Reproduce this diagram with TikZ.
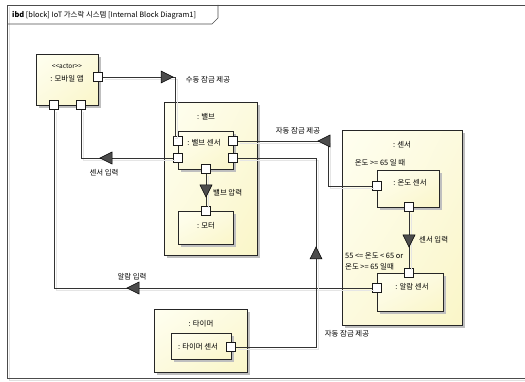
\documentclass[tikz,border=0pt]{standalone}
\usepackage{fontspec}
\newfontfamily\kr{Noto Sans CJK KR}
\usetikzlibrary{shadows,shadings,calc}
\definecolor{blockY}{RGB}{250,246,200}
\definecolor{blockL}{RGB}{255,255,240}
\tikzset{
  x=1pt, y=-1pt,
  every node/.style={font=\kr\fontsize{7.4}{8.5}\selectfont, text=black},
  blockbox/.style={draw=black!85, line width=0.8pt, anchor=north west, inner sep=0,
    upper left=blockL, upper right=blockY!60, lower left=blockY!60, lower right=blockY,
    drop shadow={shadow xshift=2.5pt, shadow yshift=-2.5pt, fill=black!25, opacity=1}},
  portbox/.style={draw=black!90, fill=white, minimum size=8.5pt, inner sep=0, line width=0.7pt},
  conn/.style={draw=black!80, line width=0.6pt,
    preaction={draw=black!10, line width=0.9pt, transform canvas={xshift=2pt, yshift=-2pt}}},
  lbl/.style={inner sep=0},
  flowtri/.pic={\filldraw[draw=black, fill=black!70, line width=0.5pt]
      (-12,-6) -- (0,0) -- (-12,6) -- cycle;}
}
\begin{document}
\begin{tikzpicture}
\useasboundingbox (0,0) rectangle (525,382);
% frame
\draw[black!12, line width=1pt] (9,7) -- (9,380) -- (525,380);
\draw[black!70, line width=0.6pt] (525,5) -- (7,5) -- (7,378) -- (525,378);
\draw[black!70, line width=0.6pt] (7,24) -- (212,24) -- (218,18) -- (218,5);
\node[lbl, anchor=west] (title) at (12,15) {\textbf{ibd} [block] IoT 가스락 시스템 [Internal Block Diagram1]};

% actor
\node[blockbox, minimum width=62, minimum height=51] (actor) at (36,54) {};
\node[lbl, font=\kr\fontsize{6.5}{7}\selectfont] (actst) at (67,66) {<<actor>>};
\node[lbl] (actnm) at (67,79) {: 모바일 앱};

% valve
\node[blockbox, minimum width=93, minimum height=153] (valve) at (164,102) {};
\node[lbl] (valvenm) at (206,117) {: 밸브};
\node[blockbox, minimum width=55, minimum height=38] (vsens) at (178,131) {};
\node[lbl] (vsensnm) at (204,143) {: 밸브 센서};
\node[blockbox, minimum width=55, minimum height=33] (motor) at (178,211) {};
\node[lbl] (motornm) at (206,226) {: 모터};

% sensor
\node[blockbox, minimum width=120, minimum height=195] (sensor) at (342,130) {};
\node[lbl] (sensornm) at (402,145) {: 센서};
\node[blockbox, minimum width=62, minimum height=37] (temp) at (377,170) {};
\node[lbl] (tempnm) at (410,183) {: 온도 센서};
\node[blockbox, minimum width=66, minimum height=38] (alarm) at (377,273) {};
\node[lbl] (alarmnm) at (412,287) {: 알람 센서};

% timer
\node[blockbox, minimum width=93, minimum height=63] (timer) at (154,309) {};
\node[lbl] (timernm) at (201,324) {: 타이머};
\node[blockbox, minimum width=60, minimum height=26] (tsens) at (171,333) {};
\node[lbl] (tsensnm) at (198,347) {: 타이머 센서};

% ports
\node[portbox] (aR) at (98,77) {};
\node[portbox] (aB1) at (54,105) {};
\node[portbox] (aB2) at (81,105) {};
\node[portbox] (vL1) at (178,141) {};
\node[portbox] (vL2) at (178,158) {};
\node[portbox] (vR1) at (233,141) {};
\node[portbox] (vR2) at (233,158) {};
\node[portbox] (vB) at (206,169) {};
\node[portbox] (mT) at (206,211) {};
\node[portbox] (tL) at (377,186) {};
\node[portbox] (tB) at (409,207) {};
\node[portbox] (alT) at (409,273) {};
\node[portbox] (alL) at (377,288) {};
\node[portbox] (tmR) at (231,347) {};

% connectors
\coordinate (k0) at (175,77);
\coordinate (k1) at (328,141);
\coordinate (k2) at (316,158);
\path[conn] (aR.east) -- (k0) |- (vL1.north west);
\path[conn] (vL2.west) -| (aB2.south);
\path[conn] (aB1.south) |- (alL.west);
\path[conn] (vR1.east) -- (k1) |- (tL.west);
\path[conn] (vR2.east) -- (k2) |- (tmR.east);
\path[conn] (vB.south) -- (mT.north);
\path[conn] (tB.south) -- (alT.north);

% flow arrows
\pic at (173,77) {flowtri};
\pic[rotate=180] at (100,158) {flowtri};
\pic[rotate=270] at (206,197) {flowtri};
\pic[rotate=180] at (318,141) {flowtri};
\pic[rotate=90] at (316,247) {flowtri};
\pic[rotate=270] at (409,247) {flowtri};
\pic[rotate=180] at (127,288) {flowtri};

% flow labels
\node[lbl] (l1) at (208,80) {수동 잠금 제공};
\node[lbl] (l2) at (104,173) {센서 입력};
\node[lbl, anchor=west] (l3) at (213,193) {밸브 압력};
\node[lbl] (l4) at (298,131) {자동 잠금 제공};
\node[lbl] (l5) at (380,163) {온도 >= 65 일 때};
\node[lbl, anchor=west] (l6) at (419,240) {센서 입력};
\node[lbl, anchor=west] (l7) at (345,256) {55 <= 온도 < 65 or};
\node[lbl, anchor=west] (l8) at (345,267) {온도 >= 65 일때};
\node[lbl] (l9) at (132,277) {알람 입력};
\node[lbl] (l10) at (347,334) {자동 잠금 제공};
\end{tikzpicture}
\end{document}
